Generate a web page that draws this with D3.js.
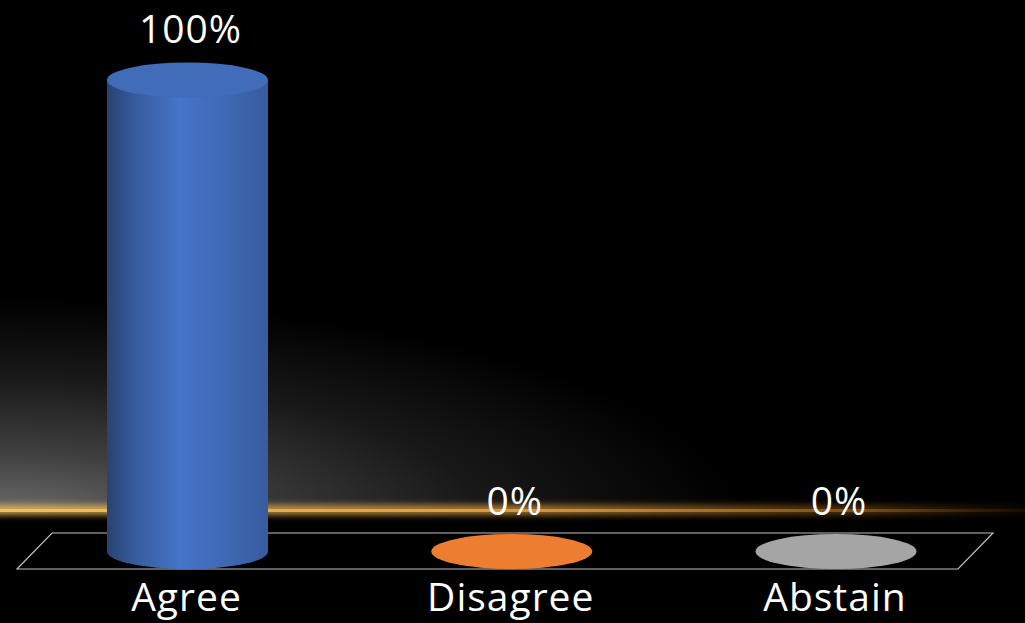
<!DOCTYPE html>
<html><head><meta charset="utf-8">
<script src="https://cdn.jsdelivr.net/npm/d3@7"></script>
<style>html,body{margin:0;padding:0;background:#000;overflow:hidden}</style>
</head><body>
<script>
const categories = ["Agree", "Disagree", "Abstain"];
const values = [1.00, 0.00, 0.00];
const valueLabels = ["100%", "0%", "0%"];
const colors = ["#4472c4", "#ed7d31", "#a5a5a5"];

const W = 1025, H = 623;
const svg = d3.select("body").append("svg").attr("width", W).attr("height", H);
const defs = svg.append("defs");

svg.append("rect").attr("width", W).attr("height", H).attr("fill", "#000");

// haze
const rg = defs.append("radialGradient").attr("id", "haze")
  .attr("gradientUnits", "userSpaceOnUse").attr("cx", 0).attr("cy", 520).attr("r", 740)
  .attr("gradientTransform", "translate(0,520) scale(1,0.3) translate(0,-520)");
rg.append("stop").attr("offset", "0").attr("stop-color", "#707070");
rg.append("stop").attr("offset", "0.3").attr("stop-color", "#404040");
rg.append("stop").attr("offset", "0.65").attr("stop-color", "#181818");
rg.append("stop").attr("offset", "1").attr("stop-color", "#000");
svg.append("rect").attr("x", 0).attr("y", 280).attr("width", W).attr("height", 230).attr("fill", "url(#haze)");

// glow line
const lg = defs.append("linearGradient").attr("id", "line").attr("x1", 0).attr("x2", 1);
lg.append("stop").attr("offset", "0").attr("stop-color", "#f5c060").attr("stop-opacity", 1);
lg.append("stop").attr("offset", "0.5").attr("stop-color", "#e0a040").attr("stop-opacity", 0.9);
lg.append("stop").attr("offset", "0.85").attr("stop-color", "#b07020").attr("stop-opacity", 0.5);
lg.append("stop").attr("offset", "1").attr("stop-color", "#805010").attr("stop-opacity", 0.1);
defs.append("filter").attr("id", "blur").attr("x", "-5%").attr("y", "-300%").attr("width", "110%").attr("height", "700%")
  .append("feGaussianBlur").attr("stdDeviation", "0 3");
svg.append("rect").attr("x", 0).attr("y", 505).attr("width", W).attr("height", 10).attr("fill", "url(#line)").attr("filter", "url(#blur)").attr("opacity", 0.8);
svg.append("rect").attr("x", 0).attr("y", 509).attr("width", W).attr("height", 3).attr("fill", "url(#line)");

// floor
const floor = [[52, 533], [993, 533], [958, 569], [17, 569]];
svg.append("path").attr("d", "M" + floor.join("L") + "Z")
  .attr("fill", "#000").attr("stroke", "#bfbfbf").attr("stroke-width", 1.2);

const x = d3.scalePoint().domain(categories).range([187.5, 836]);
const y = d3.scaleLinear().domain([0, 1]).range([551.5, 80]);
const rx = 80.5, ry = 17.5;

categories.forEach((c, i) => {
  const base = d3.color(colors[i]);
  const g = defs.append("linearGradient").attr("id", "cyl" + i).attr("x1", 0).attr("x2", 1);
  g.append("stop").attr("offset", "0").attr("stop-color", base.darker(1.5));
  g.append("stop").attr("offset", "0.18").attr("stop-color", base.darker(0.6));
  g.append("stop").attr("offset", "0.45").attr("stop-color", base.brighter(0.05));
  g.append("stop").attr("offset", "0.75").attr("stop-color", base.darker(0.25));
  g.append("stop").attr("offset", "1").attr("stop-color", base.darker(0.6));
});

const bars = svg.append("g").selectAll("g").data(categories).join("g");
bars.each(function(c, i) {
  const gEl = d3.select(this);
  const cx = x(c), top = y(values[i]), bot = y(0);
  if (values[i] > 0) {
    gEl.append("path")
      .attr("d", `M${cx - rx},${top} L${cx - rx},${bot} A${rx},${ry} 0 0 0 ${cx + rx},${bot} L${cx + rx},${top} Z`)
      .attr("fill", `url(#cyl${i})`);
    gEl.append("ellipse").attr("cx", cx).attr("cy", top).attr("rx", rx).attr("ry", ry)
      .attr("fill", d3.color(colors[i]).darker(0.15));
  } else {
    gEl.append("ellipse").attr("cx", cx).attr("cy", top).attr("rx", rx).attr("ry", ry)
      .attr("fill", colors[i]);
  }
  gEl.append("text").attr("x", cx + 3).attr("y", top - 37)
    .attr("text-anchor", "middle").attr("fill", "#fff")
    .attr("font-family", "Open Sans, sans-serif").attr("font-size", 39)
    .attr("letter-spacing", 1)
    .text(valueLabels[i]);
  gEl.append("text").attr("x", cx - 1).attr("y", 611)
    .attr("text-anchor", "middle").attr("fill", "#fff")
    .attr("font-family", "Open Sans, sans-serif").attr("font-size", 39)
    .attr("letter-spacing", 1)
    .text(c);
});
</script>
</body></html>
